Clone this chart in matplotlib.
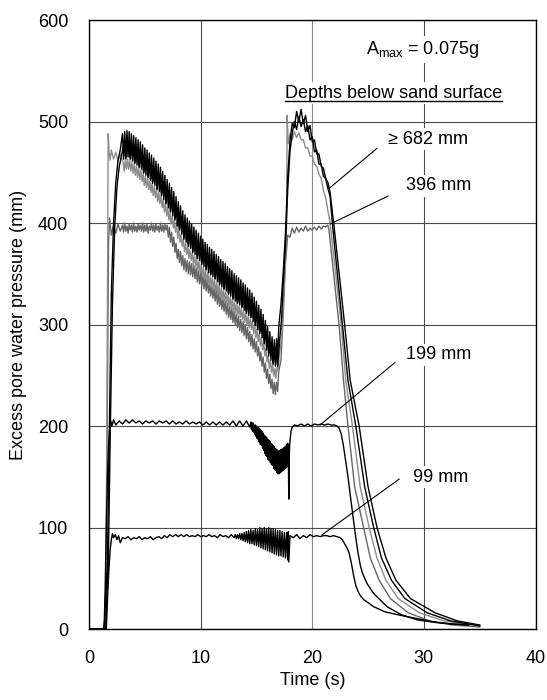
import numpy as np
import matplotlib
matplotlib.use("Agg")
import matplotlib.pyplot as plt

plt.rcParams['font.family'] = ['Liberation Sans', 'DejaVu Sans']
plt.rcParams['mathtext.default'] = 'regular'

# ---------------- data ----------------
# >= 682 mm sensors: two black records, one light-grey record
blackA_pre_t = [0, 1.5, 1.6, 1.8, 2.0, 2.2, 2.4, 2.6, 2.8]
blackA_pre_v = [0, 0, 30, 180, 330, 400, 440, 462, 472]
blackA_band = [488, 463, 490, 465, 491, 465, 490, 463, 488, 461,
               486, 459, 484, 457, 482, 455, 480, 453, 477, 449,
               474, 447, 472, 445, 469, 442, 467, 439, 464, 437,
               461, 433, 458, 431, 455, 427, 451, 423, 447, 419,
               443, 415, 439, 411, 435, 407, 431, 403, 426, 397,
               421, 393, 417, 389, 412, 384, 408, 381, 405, 377,
               402, 375, 399, 371, 396, 369, 393, 365, 390, 363,
               387, 359, 384, 357, 381, 354, 379, 351, 376, 349,
               374, 347, 372, 345, 369, 342, 367, 339, 364, 337,
               362, 335, 360, 333, 357, 330, 355, 328, 353, 325,
               350, 323, 348, 321, 346, 319, 344, 317, 341, 314,
               339, 311, 336, 309, 334, 307, 331, 303, 327, 299,
               323, 295, 319, 291, 315, 287, 310, 281, 304, 275,
               298, 269, 293, 265, 288, 261, 285, 259, 286, 266,
               298]                                   # 3.0 .. 17.0 s
blackA_post_t = [17.2, 17.4, 17.6, 17.8, 18.0, 18.2, 18.4, 18.6, 18.8, 19.0,
                 19.2, 19.4, 19.6, 19.8, 20.0, 20.2, 20.4, 20.6, 20.8, 21.0,
                 21.2, 21.4, 21.6, 22.0, 22.9, 23.4, 24.2, 25.0, 25.8, 26.6,
                 27.5, 28.8, 31.0, 33.0, 35.0]
blackA_post_v = [320, 352, 390, 445, 480, 498, 494, 510, 500, 512,
                 498, 506, 490, 496, 480, 482, 468, 468, 456, 454,
                 444, 440, 430, 392, 300, 245, 200, 140, 100, 70,
                 48, 30, 16, 8, 4]

blackB_pre_t = [0, 1.55, 1.7, 1.9, 2.1, 2.3, 2.5, 2.7, 2.9]
blackB_pre_v = [0, 0, 40, 190, 320, 395, 435, 455, 466]
blackB_band = [477, 463, 480, 463, 477, 459, 473, 455, 469, 450,
               463, 445, 458, 440, 453, 434, 447, 428, 440, 420,
               432, 412, 424, 404, 415, 394, 406, 385, 397, 378,
               391, 372, 385, 366, 379, 360, 373, 354, 368, 349,
               363, 345, 358, 340, 353, 335, 349, 330, 344, 326,
               339, 321, 335, 317, 330, 312, 325, 307, 320, 300,
               312, 292, 304, 283, 293, 271, 282, 261, 274, 259,
               287]                                   # 3.1 .. 17.1 s
blackB_post_t = [17.25, 17.4, 17.6, 17.8, 18.0, 18.2, 18.4, 18.6, 18.8, 19.0,
                 19.2, 19.4, 19.6, 19.8, 20.0, 20.2, 20.4, 20.6, 20.8, 21.0,
                 21.2, 21.4, 21.6, 21.8, 22.7, 23.2, 23.9, 24.7, 25.5, 26.2,
                 27.1, 28.3, 30.3, 32.4, 35.0]
blackB_post_v = [305, 340, 378, 432, 470, 488, 500, 492, 505, 495,
                 502, 490, 496, 482, 485, 470, 472, 458, 458, 446,
                 444, 434, 426, 400, 300, 245, 200, 140, 100, 70,
                 48, 30, 16, 8, 3]

grey_pre_t = [0, 1.5, 1.62, 1.72, 1.8, 1.9, 2.0, 2.2, 2.4, 2.6, 2.8]
grey_pre_v = [0, 0, 250, 488, 470, 462, 472, 463, 470, 461, 468]
grey_band = [460, 451, 462, 453, 463, 453, 462, 451, 460, 449,
             458, 447, 456, 445, 454, 443, 452, 441, 449, 437,
             446, 435, 444, 433, 441, 430, 439, 427, 436, 425,
             433, 421, 430, 419, 427, 415, 423, 411, 419, 407,
             415, 403, 411, 399, 407, 395, 403, 391, 398, 385,
             393, 381, 389, 377, 384, 372, 380, 369, 377, 365,
             374, 363, 371, 359, 368, 357, 365, 353, 362, 351,
             359, 347, 356, 345, 353, 342, 351, 339, 348, 337,
             346, 335, 344, 333, 341, 330, 339, 327, 336, 325,
             334, 323, 332, 321, 329, 318, 327, 316, 325, 313,
             322, 311, 320, 309, 318, 307, 316, 305, 313, 302,
             311, 299, 308, 297, 306, 295, 303, 291, 299, 287,
             295, 283, 291, 279, 287, 275, 282, 269, 276, 263,
             270, 257, 265, 253, 260, 249, 257, 247, 258, 254,
             270]                                     # 3.05 .. 17.05 s
grey_post_t = [17.25, 17.4, 17.6, 17.7, 17.75, 17.85, 18.0, 18.2, 18.4, 18.6,
               18.8, 19.0, 19.2, 19.4, 19.6, 19.8, 20.0, 20.2, 20.4, 20.6,
               20.8, 21.0, 21.2, 21.4, 21.6, 22.6, 23.0, 23.6, 24.3, 25.1,
               25.8, 26.6, 27.7, 29.6, 31.8, 35.0]
grey_post_v = [285, 320, 365, 400, 506, 478, 488, 482, 490, 484,
               489, 482, 482, 474, 474, 466, 466, 458, 456, 448,
               444, 432, 425, 412, 400, 300, 245, 200, 140, 100,
               70, 48, 30, 16, 8, 3]

# 396 mm (dark grey)
d396_pre_t = [0, 1.45, 1.6, 1.75, 1.85, 2.0, 2.2, 2.4, 2.6, 2.8]
d396_pre_v = [0, 0, 150, 380, 405, 388, 398, 390, 399, 392]
d396_band = [398, 391, 400, 392, 397, 390, 399, 393, 398, 391,
             400, 392, 397, 391, 399, 393, 398, 392, 400, 391,
             398, 392, 399, 390, 397, 393, 400, 392, 398, 391,
             399, 393, 397, 391, 400, 392, 398, 391, 399, 393,
             398, 386, 396, 381, 391, 377, 386, 371, 380, 365,
             374, 361, 372, 358, 368, 354, 365, 352, 363, 350,
             362, 349, 360, 347, 358, 345, 356, 342, 353, 340,
             351, 338, 349, 335, 346, 333, 344, 331, 341, 328,
             339, 326, 336, 323, 334, 320, 331, 318, 329, 315,
             326, 313, 323, 310, 321, 307, 318, 305, 316, 302,
             313, 300, 310, 297, 308, 294, 305, 292, 303, 289,
             300, 286, 297, 283, 293, 279, 290, 276, 286, 273,
             283, 269, 278, 264, 273, 259, 268, 253, 262, 247,
             256, 242, 251, 237, 246, 232, 243, 231, 243, 234,
             254]                                     # 3.0 .. 17.0 s
d396_post_t = [17.2, 17.4, 17.6, 17.8, 18.0, 18.2, 18.4, 18.6, 18.8, 19.0,
               19.2, 19.4, 19.6, 19.8, 20.0, 20.2, 20.4, 20.6, 20.8, 21.0,
               21.2, 21.4, 21.5, 22.4, 22.8, 23.2, 23.8, 24.6, 25.2, 26.0,
               27.0, 28.6, 30.5, 32.5, 35.0]
d396_post_v = [265, 310, 360, 388, 386, 395, 390, 396, 391, 395,
               392, 397, 392, 395, 393, 396, 393, 397, 394, 397,
               396, 398, 393, 300, 245, 200, 140, 100, 70, 48,
               30, 16, 8, 4, 2]

# 199 mm (black)
d199_start_t = [0, 1.35, 1.45, 1.55, 1.65, 1.75, 1.85, 1.95, 2.05, 2.2, 2.4]
d199_start_v = [0, 0, 40, 100, 150, 180, 196, 205, 200, 206, 201]
d199_flat = [205, 202, 206, 203, 206, 203, 205, 202, 205, 203,
             205, 202, 205, 203, 205, 202, 205, 202, 204, 202,
             205, 202, 204, 202, 204, 201, 204, 201, 204, 201,
             204, 201, 204, 201, 205, 200, 205, 200, 205, 199]   # 2.7 .. 14.4 s
d199_dip = [204, 197, 203, 195, 203, 194, 201, 192, 201, 190,
            200, 188, 199, 187, 198, 184, 197, 182, 196, 181,
            195, 178, 193, 176, 191, 173, 190, 171, 189, 170,
            187, 167, 186, 166, 185, 164, 183, 162, 182, 161,
            181, 158, 180, 157, 178, 156, 177, 154, 176, 153,
            175, 153, 176, 154, 177, 155, 177, 156, 178, 157,
            179, 158, 180, 159, 182, 160, 183]                  # 14.5 .. 17.8 s
d199_jump_t = [17.85, 17.9, 17.95, 18.0, 18.1, 18.2]
d199_jump_v = [178, 128, 175, 185, 195, 199]
d199_flat2 = [201, 200, 202, 200, 202, 200, 202, 201, 202, 201, 202, 201, 201]  # 18.4 .. 22.0 s
d199_end_t = [22.2, 22.4, 22.6, 22.8, 23.0, 23.2, 23.45, 23.7, 23.9, 24.1,
              24.3, 24.5, 24.9, 25.5, 26.7, 28.0, 29.4, 31.0, 32.5, 34.0]
d199_end_v = [200, 198, 192, 180, 165, 150, 128, 107, 90, 75,
              63, 55, 45, 35, 22, 14, 9, 6.5, 5, 4]

# 99 mm (black)
d99_start_t = [0, 1.3, 1.42, 1.5, 1.58, 1.65, 1.72, 1.8, 1.9, 2.0,
               2.1, 2.2, 2.35, 2.5, 2.65, 2.8, 3.0]
d99_start_v = [0, 0, 10, 35, 55, 40, 45, 62, 78, 88,
               94, 90, 93, 88, 92, 85, 90]
d99_flat = [89, 91, 88, 90, 89, 91, 88, 90, 89, 91,
            88, 90, 91, 89, 92, 90, 93, 91, 93, 91,
            93, 91, 93, 91, 92, 91, 93, 91, 92, 91,
            93, 91, 92, 90, 93, 91, 92, 90, 93, 90]             # 3.25 .. 13.0 s
d99_osc = [93, 89, 93, 89, 94, 88, 94, 87, 95, 86,
           96, 85, 97, 84, 98, 84, 97, 83, 99, 82,
           98, 81, 100, 80, 99, 79, 100, 78, 99, 77,
           100, 76, 99, 75, 99, 74, 98, 73, 97, 72,
           97, 72, 96, 71, 95, 70, 95, 68]                      # 13.1 .. 17.8 s
d99_jump_t = [17.85, 17.9, 18.0]
d99_jump_v = [96, 66, 92]
d99_flat2 = [90, 93, 89, 92, 90, 93, 91, 92, 91, 92, 92, 91, 92, 91, 90]  # 18.3 .. 22.5 s
d99_end_t = [22.7, 22.9, 23.1, 23.3, 23.5, 23.7, 23.9, 24.1, 24.3, 24.6,
             25.0, 25.5, 26.5, 27.9, 29.5, 30.9, 32.5, 34.0]
d99_end_v = [88, 84, 80, 75, 65, 53, 43, 37, 33, 29,
             26, 22, 17, 13.5, 10, 7, 5, 4]

x_ticks = [0, 10, 20, 30, 40]
y_ticks = [0, 100, 200, 300, 400, 500, 600]

labels = ['\u2265 682 mm', '396 mm', '199 mm', '99 mm']
label_pos = [(30.35, 482.5), (31.3, 436.5), (31.35, 270), (31.5, 149.5)]
leader_from = [(25.8, 473.6), (26.8, 426.6), (27.4, 262.5), (27.8, 147.8)]
leader_to = [(21.5, 434), (21.6, 399), (20.7, 201), (20.85, 92.6)]

# ---------------- assemble ----------------
def grid_times(a, b, vals):
    return list(np.linspace(a, b, len(vals)))

def build(pre_t, pre_v, t0, t1, band, post_t, post_v):
    return (np.array(pre_t + grid_times(t0, t1, band) + post_t),
            np.array(pre_v + band + post_v))

tA, vA = build(blackA_pre_t, blackA_pre_v, 3.0, 17.0, blackA_band, blackA_post_t, blackA_post_v)
tB, vB = build(blackB_pre_t, blackB_pre_v, 3.1, 17.1, blackB_band, blackB_post_t, blackB_post_v)
tG, vG = build(grey_pre_t, grey_pre_v, 3.05, 17.05, grey_band, grey_post_t, grey_post_v)
tD, vD = build(d396_pre_t, d396_pre_v, 3.0, 17.0, d396_band, d396_post_t, d396_post_v)

t199 = (d199_start_t + grid_times(2.7, 14.4, d199_flat) + grid_times(14.5, 17.8, d199_dip)
        + d199_jump_t + grid_times(18.4, 22.0, d199_flat2) + d199_end_t)
v199 = d199_start_v + d199_flat + d199_dip + d199_jump_v + d199_flat2 + d199_end_v

t99 = (d99_start_t + grid_times(3.25, 13.0, d99_flat) + grid_times(13.1, 17.8, d99_osc)
       + d99_jump_t + grid_times(18.3, 22.5, d99_flat2) + d99_end_t)
v99 = d99_start_v + d99_flat + d99_osc + d99_jump_v + d99_flat2 + d99_end_v

# ---------------- plot ----------------
fig = plt.figure(figsize=(5.47, 7.0), dpi=100)
ax = fig.add_axes([0.1627, 0.1014, 0.8163, 0.870])

lw = 1.0
ax.plot(tD, vD, color='#666666', lw=lw, zorder=2)
ax.plot(tG, vG, color='#8c8c8c', lw=lw, zorder=2)
ax.plot(tB, vB, color='black', lw=lw, zorder=2)
ax.plot(tA, vA, color='black', lw=lw, zorder=2)
ax.plot(t199, v199, color='black', lw=lw, zorder=2)
ax.plot(t99, v99, color='black', lw=lw, zorder=2)

ax.set_xlim(0, 40)
ax.set_ylim(0, 600)
ax.set_xticks(x_ticks)
ax.set_yticks(y_ticks)
ax.grid(True, color='#4d4d4d', lw=0.8)
ax.get_xgridlines()[2].set_color('#8a8a8a')
ax.set_axisbelow(True)
ax.tick_params(length=0, pad=15, labelsize=13)
for s in ax.spines.values():
    s.set_color('black')
    s.set_linewidth(1.0)

ax.set_xlabel('Time (s)', fontsize=13, labelpad=4)
ax.set_ylabel('Excess pore water pressure (mm)', fontsize=13, labelpad=8)

box = dict(facecolor='white', edgecolor='none', pad=2)
ax.text(29.85, 571, 'A$_{max}$ = 0.075g', ha='center', va='center', fontsize=13,
        bbox=box, zorder=5)
dtxt = ax.text(27.3, 528, 'Depths below sand surface', ha='center', va='center',
               fontsize=13, bbox=box, zorder=5)

for lab, pos, p0, p1 in zip(labels, label_pos, leader_from, leader_to):
    ax.text(pos[0], pos[1], lab, ha='center', va='center', fontsize=13, bbox=box, zorder=5)
    ax.annotate('', xy=p1, xytext=p0,
                arrowprops=dict(arrowstyle='-', color='black', lw=0.8,
                                shrinkA=0, shrinkB=0), zorder=4)

fig.canvas.draw()
r = fig.canvas.get_renderer()
bb = dtxt.get_window_extent(r).transformed(ax.transData.inverted())
uy = bb.y0 + 0.06 * (bb.y1 - bb.y0)
ax.plot([bb.x0, bb.x1], [uy, uy], color='black', lw=1.0, zorder=6)

fig.savefig('out.png', dpi=100)
